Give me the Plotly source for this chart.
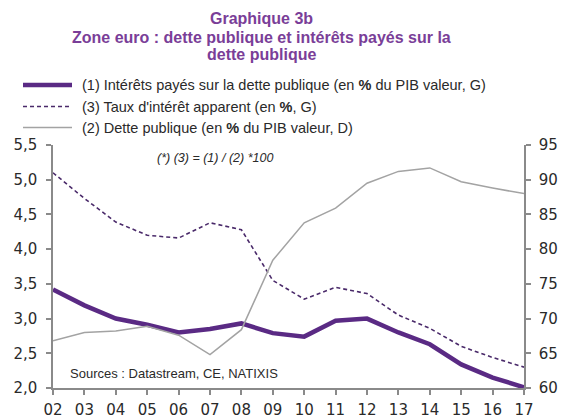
import plotly.graph_objects as go

years = list(range(2002, 2018))
year_labels = ["02", "03", "04", "05", "06", "07", "08", "09", "10", "11", "12", "13", "14", "15", "16", "17"]

interets = [3.42, 3.19, 3.00, 2.91, 2.80, 2.85, 2.93, 2.79, 2.74, 2.97, 3.00, 2.80, 2.63, 2.34, 2.15, 2.01]
taux_apparent = [5.10, 4.73, 4.39, 4.20, 4.16, 4.38, 4.28, 3.55, 3.28, 3.45, 3.36, 3.05, 2.86, 2.60, 2.44, 2.30]
dette = [66.8, 68.0, 68.2, 68.9, 67.6, 64.8, 68.4, 78.4, 83.8, 85.9, 89.5, 91.2, 91.7, 89.7, 88.8, 88.0]

left_ticks = [2.0, 2.5, 3.0, 3.5, 4.0, 4.5, 5.0, 5.5]
right_ticks = [60, 65, 70, 75, 80, 85, 90, 95]

title_lines = ["Graphique 3b", "Zone euro : dette publique et intérêts payés sur la", "dette publique"]
legend_labels = [
    "(1) Intérêts payés sur la dette publique (en <b>%</b> du PIB valeur, G)",
    "(3) Taux d'intérêt apparent (en <b>%</b>, G)",
    "(2) Dette publique (en <b>%</b> du PIB valeur, D)",
]

purple = "#5a2a84"
dash_purple = "#4a2a6a"
gray = "#a3a3a3"
axis_col = "#8a8a8a"
txt = "#2a2a2a"
title_col = "#7a3e98"

W, H = 564, 420
L, R, T, B = 53, 40, 145, 32
PW, PH = W - L - R, H - T - B


def px_x(x):
    return (x - L) / PW


def px_y(y):
    return (H - B - y) / PH


fig = go.Figure()
fig.add_trace(go.Scatter(x=years, y=interets, mode="lines", name=legend_labels[0],
                         line=dict(color=purple, width=4.5), yaxis="y", showlegend=False))
fig.add_trace(go.Scatter(x=years, y=taux_apparent, mode="lines", name=legend_labels[1],
                         line=dict(color=dash_purple, width=1.6, dash="4px,3px"), yaxis="y", showlegend=False))
fig.add_trace(go.Scatter(x=years, y=dette, mode="lines", name=legend_labels[2],
                         line=dict(color=gray, width=1.5), yaxis="y2", showlegend=False))

lib = "Liberation Sans, Arial, sans-serif"
dv = "DejaVu Sans, sans-serif"

axis_common = dict(
    showgrid=False, zeroline=False,
    showline=True, linecolor=axis_col, linewidth=1.5,
    ticks="outside", ticklen=5, tickcolor=axis_col, tickwidth=1.5,
    tickfont=dict(size=15, color=txt, family=dv),
)

annotations = []
for line, yc in zip(title_lines, [18, 37, 55]):
    annotations.append(dict(
        text="<b>" + line + "</b>", xref="paper", yref="paper",
        x=px_x(261), y=px_y(yc), xanchor="center", yanchor="middle",
        showarrow=False, font=dict(size=16, color=title_col, family=lib)))

shapes = []
leg_y = [85, 106.5, 127.5]
leg_styles = [
    dict(color=purple, width=4.5),
    dict(color=dash_purple, width=1.6, dash="4px,3px"),
    dict(color=gray, width=1.5),
]
for label, yc, st in zip(legend_labels, leg_y, leg_styles):
    shapes.append(dict(type="line", xref="paper", yref="paper",
                       x0=px_x(23), x1=px_x(72), y0=px_y(yc), y1=px_y(yc), line=st))
    annotations.append(dict(
        text=label, xref="paper", yref="paper", x=px_x(80), y=px_y(yc),
        xanchor="left", yanchor="middle", showarrow=False,
        font=dict(size=14.5, color=txt, family=lib)))

annotations.append(dict(
    text="<i>(*) (3) = (1) / (2) *100</i>", xref="paper", yref="paper",
    x=px_x(155), y=px_y(158), xanchor="left", yanchor="middle", showarrow=False,
    font=dict(size=12.5, color=txt, family=lib)))
annotations.append(dict(
    text="Sources : Datastream, CE, NATIXIS", xref="paper", yref="paper",
    x=px_x(68), y=px_y(373), xanchor="left", yanchor="middle", showarrow=False,
    font=dict(size=13, color=txt, family=lib)))

fig.update_layout(
    width=W, height=H,
    margin=dict(l=L, r=R, t=T, b=B, pad=0, autoexpand=False),
    paper_bgcolor="white", plot_bgcolor="white",
    separators=", ",
    font=dict(family=lib, color=txt, size=14),
    showlegend=False,
    xaxis=dict(range=[2002, 2017], tickvals=years, ticktext=year_labels,
               ticklabelstandoff=2, **axis_common),
    yaxis=dict(range=[2.0, 5.5], tickvals=left_ticks, tickformat=".1f",
               ticklabelstandoff=6, **axis_common),
    yaxis2=dict(range=[60, 95], tickvals=right_ticks, overlaying="y", side="right",
                ticklabelstandoff=5, **axis_common),
    annotations=annotations,
    shapes=shapes,
)

fig.write_html(
    "out.html",
    config={"displayModeBar": False},
    post_script="document.body.style.margin='0';document.body.style.padding='0';document.body.style.overflow='hidden';",
)
